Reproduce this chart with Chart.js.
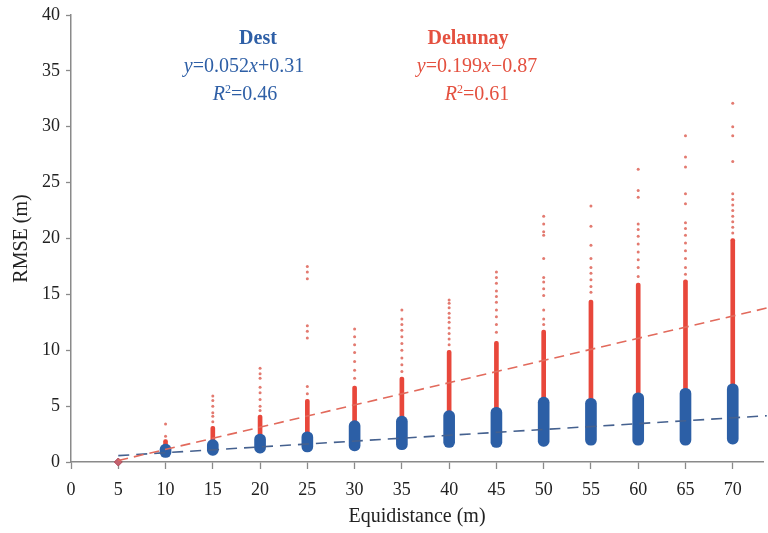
<!DOCTYPE html>
<html>
<head>
<meta charset="utf-8">
<title>RMSE vs Equidistance</title>
<script src="https://cdn.jsdelivr.net/npm/chart.js@4.4.1/dist/chart.umd.min.js"></script>
<style>
  html, body { margin: 0; padding: 0; background: #fff; }
  #wrap { position: relative; width: 768px; height: 533px; }
  .note {
    position: absolute;
    font-family: "Liberation Serif", "DejaVu Serif", serif;
    font-size: 20px;
    line-height: 20px;
    white-space: nowrap;
    transform: translateX(-50%);
  }
  .note sup { font-size: 12px; vertical-align: 7px; line-height: 0; }
  .dest { color: #2e5fa6; }
  .delaunay { color: #e4503f; }
</style>
</head>
<body>
<div id="wrap">
  <canvas id="rmseChart" width="768" height="533"></canvas>
  <div class="note dest" style="left:258px; top:27px;"><b>Dest</b></div>
  <div class="note dest" style="left:244px; top:55px;"><i>y</i>=0.052<i>x</i>+0.31</div>
  <div class="note dest" style="left:245px; top:83px;"><i>R</i><sup>2</sup>=0.46</div>
  <div class="note delaunay" style="left:468px; top:27px;"><b>Delaunay</b></div>
  <div class="note delaunay" style="left:477px; top:55px;"><i>y</i>=0.199<i>x</i>&minus;0.87</div>
  <div class="note delaunay" style="left:477px; top:83px;"><i>R</i><sup>2</sup>=0.61</div>
</div>
<script>
// equidistance columns (m)
const columnX = [10, 15, 20, 25, 30, 35, 40, 45, 50, 55, 60, 65, 70];

// Dest: dense range of RMSE per column
const destLow  = [0.4, 0.6, 0.8, 0.9, 1.0, 1.1, 1.3, 1.3, 1.4, 1.5, 1.5, 1.5, 1.6];
const destHigh = [1.6, 2.0, 2.5, 2.7, 3.7, 4.1, 4.6, 4.9, 5.8, 5.7, 6.2, 6.6, 7.0];

// Delaunay: dense range per column + sparse points above it
const delaunayLow  = [0.6, 0.9, 1.1, 1.2, 1.3, 1.4, 1.6, 1.6, 1.7, 1.8, 1.8, 1.8, 1.9];
const delaunayHigh = [2.0, 3.2, 4.2, 5.6, 6.8, 7.6, 10.0, 10.8, 11.8, 14.5, 16.0, 16.3, 20.0];
const delaunaySparse = [
  [3.4, 2.3],
  [5.9, 5.5, 5.0, 4.4, 4.1, 3.6],
  [8.4, 7.9, 7.5, 6.7, 6.2, 5.6, 5.0, 4.6],
  [17.5, 17.0, 16.4, 12.2, 11.7, 11.1, 6.75, 6.1],
  [11.9, 11.2, 10.5, 9.8, 9.0, 8.2, 7.5],
  [13.6, 12.8, 12.3, 11.8, 11.2, 10.6, 10.0, 9.3, 8.7, 8.1],
  [14.5, 14.2, 13.8, 13.3, 12.9, 12.5, 12.0, 11.5, 11.0, 10.5],
  [17.0, 16.5, 16.0, 15.3, 14.8, 14.3, 13.6, 13.0, 12.3, 11.6],
  [22.0, 21.3, 20.6, 20.3, 18.2, 16.5, 16.1, 15.5, 14.9, 13.6, 12.8, 12.3],
  [22.9, 21.1, 19.4, 18.2, 17.4, 16.9, 16.3, 15.7, 15.2],
  [26.2, 24.3, 23.7, 21.3, 20.8, 20.2, 19.5, 18.8, 18.1, 17.4, 16.6],
  [29.2, 27.3, 26.4, 24.0, 23.1, 21.4, 20.9, 20.3, 19.6, 18.9, 18.2, 17.4, 16.8],
  [32.1, 30.0, 29.2, 26.9, 24.0, 23.5, 23.0, 22.5, 22.0, 21.5, 21.0, 20.5]
];

// single point at 5 m
const originX = [5];
const originY = [0];

// trend lines, end points
const trendX = [5, 73.6];
const destTrendY = [0.57, 4.14];
const delaunayTrendY = [0.13, 13.78];

const xTicks = [0, 5, 10, 15, 20, 25, 30, 35, 40, 45, 50, 55, 60, 65, 70];
const yTicks = [0, 5, 10, 15, 20, 25, 30, 35, 40];

const AXIS_GRAY = '#8a8a8a';
const serif = '"Liberation Serif", "DejaVu Serif", serif';

const toRange = (lo, hi) => columnX.map((x, i) => ({ x: x, y: [lo[i], hi[i]] }));
const sparsePoints = [];
columnX.forEach((x, i) => delaunaySparse[i].forEach(v => sparsePoints.push({ x: x, y: v })));
const toLine = ys => trendX.map((x, i) => ({ x: x, y: ys[i] }));

new Chart(document.getElementById('rmseChart'), {
  type: 'scatter',
  data: {
    datasets: [
      {
        type: 'line',
        label: 'Delaunay trend',
        data: toLine(delaunayTrendY),
        borderColor: '#e26a5c',
        borderWidth: 1.6,
        borderDash: [10, 6],
        pointRadius: 0,
        fill: false,
        order: 0
      },
      {
        type: 'line',
        label: 'Dest trend',
        data: toLine(destTrendY),
        borderColor: '#45618f',
        borderWidth: 1.6,
        borderDash: [11, 7],
        pointRadius: 0,
        fill: false,
        order: 0
      },
      {
        type: 'scatter',
        label: '5 m',
        data: originX.map((x, i) => ({ x: x, y: originY[i] })),
        pointStyle: 'rectRot',
        pointRadius: 4,
        backgroundColor: '#c4626f',
        borderColor: '#b04a5a',
        borderWidth: 1,
        order: 1
      },
      {
        type: 'bar',
        label: 'Dest',
        data: toRange(destLow, destHigh),
        backgroundColor: '#2c5fa6',
        barThickness: 11,
        borderRadius: 6,
        borderSkipped: false,
        grouped: false,
        order: 2
      },
      {
        type: 'scatter',
        label: 'Delaunay sparse',
        data: sparsePoints,
        pointRadius: 1.5,
        backgroundColor: '#e37a70',
        borderWidth: 0,
        order: 3
      },
      {
        type: 'bar',
        label: 'Delaunay',
        data: toRange(delaunayLow, delaunayHigh),
        backgroundColor: '#e8473b',
        barThickness: 4,
        borderRadius: 2,
        borderSkipped: false,
        grouped: false,
        order: 4
      }
    ]
  },
  options: {
    responsive: false,
    animation: false,
    clip: false,
    layout: { padding: { top: 13, right: 0, left: 0, bottom: 0 } },
    plugins: {
      legend: { display: false },
      tooltip: { enabled: false }
    },
    scales: {
      x: {
        type: 'linear',
        min: 0,
        max: 73.2,
        offset: false,
        border: { display: true, color: AXIS_GRAY, width: 1.5 },
        grid: { display: true, offset: false, drawOnChartArea: false, drawTicks: true, tickLength: 7, tickColor: AXIS_GRAY, tickWidth: 1.3 },
        afterBuildTicks: scale => { scale.ticks = xTicks.map(v => ({ value: v })); },
        ticks: { color: '#222', padding: 10, autoSkip: false, maxRotation: 0, font: { family: serif, size: 18 } },
        title: { display: true, text: 'Equidistance (m)', color: '#222', padding: { top: 8 }, font: { family: serif, size: 20 } },
        afterFit: scale => { scale.height = 71; }
      },
      y: {
        type: 'linear',
        min: 0,
        max: 40,
        border: { display: true, color: AXIS_GRAY, width: 1.5 },
        grid: { display: true, offset: false, drawOnChartArea: false, drawTicks: true, tickLength: 5, tickColor: AXIS_GRAY, tickWidth: 1.3 },
        afterBuildTicks: scale => { scale.ticks = yTicks.map(v => ({ value: v })); },
        ticks: { color: '#222', padding: 6, font: { family: serif, size: 18, lineHeight: 1 } },
        title: { display: true, text: 'RMSE (m)', color: '#222', padding: { top: 10, bottom: 0 }, font: { family: serif, size: 20 } },
        afterFit: scale => { scale.width = 71; }
      }
    }
  }
});
</script>
</body>
</html>
